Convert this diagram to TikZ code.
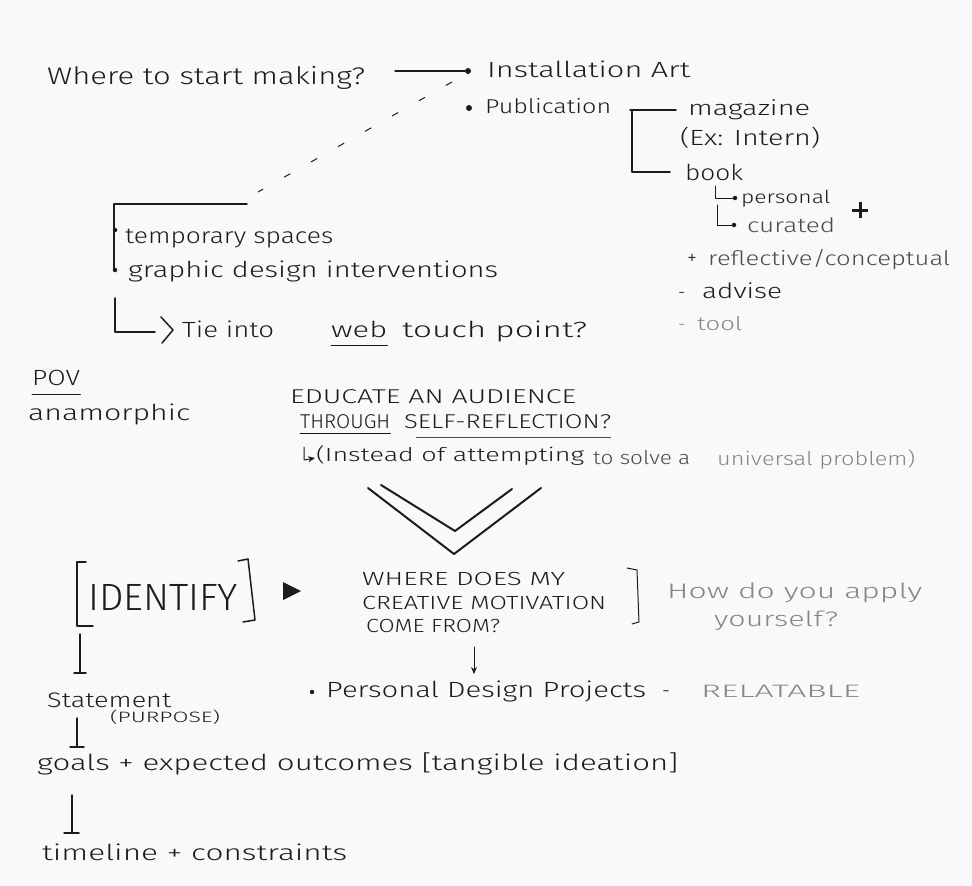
\documentclass[tikz,border=0pt]{standalone}
\usepackage{fontspec}
\setmainfont{Fira Sans}[UprightFont=* Light]
\usepackage{graphicx}
\usetikzlibrary{arrows.meta}
\definecolor{ink}{HTML}{1C1C1E}
\definecolor{graphite}{HTML}{4A4A4E}
\definecolor{pencil}{HTML}{86868A}
\definecolor{paper}{HTML}{F8F9FB}
% set a text at a given width, keeping its height
\newcommand{\hw}[2]{\resizebox{#1}{\height}{#2}}
\newcommand{\fs}[1]{\fontsize{#1}{#1}\selectfont}

\begin{document}
\begin{tikzpicture}[x=1pt,y=-1pt,
  txt/.style={inner sep=0pt, anchor=base west, text=ink},
  mid/.style={txt, text=graphite},
  soft/.style={txt, text=pencil},
  pen/.style={draw=ink, line width=1.5pt, line cap=round, line join=round},
  fine/.style={draw=ink, line width=1pt, line cap=round, line join=round},
  blob/.style={circle, fill=ink, inner sep=0pt, minimum size=6pt},
  dot/.style={circle, fill=ink, inner sep=0pt, minimum size=4.5pt},
  tip/.style={-{Stealth[length=7pt,width=6pt]}},
]
\fill[paper] (0,0) rectangle (972,886);
\useasboundingbox (0,0) rectangle (972,886);

% ---- where to start
\node[txt, font=\fs{24}] (start) at (47,84) {\hw{318pt}{Where to start making?}};
\coordinate (startR) at (395,71);
\node[blob] (dInst) at (468,71) {};
\draw[pen] (startR) -- (dInst);
\node[txt, font=\fs{22}] (inst) at (487,77) {\hw{203pt}{Installation Art}};
\node[blob] (dPub) at (469,108) {};
\node[txt, font=\fs{20}] (pub) at (485,113) {\hw{126pt}{Publication}};

% dashed link down to the spaces list
\coordinate (dashA) at (452,82);
\coordinate (dashB) at (258,192);
\draw[ink, line width=1pt, dash pattern=on 7pt off 24pt] (dashA) -- (dashB);

% ---- publication branch
\coordinate (pbTop) at (676,110);
\coordinate (pbCorner) at (630,110);
\coordinate (pbV) at (632,110);
\coordinate (pbBot) at (632,172);
\coordinate (pbEnd) at (670,172);
\draw[pen] (pbTop) -- (pbCorner);
\draw[pen] (pbV) -- (pbBot) -- (pbEnd);
\node[txt, font=\fs{21}] (mag) at (688,115) {\hw{122pt}{magazine}};
\node[txt, font=\fs{22}] (ex) at (680,145) {\hw{140pt}{(Ex: Intern)}};
\node[txt, font=\fs{22}] (book) at (685,180) {\hw{58pt}{book}};

\coordinate (h1a) at (715,186);
\coordinate (h1b) at (715,198);
\node[dot] (h1d) at (735,198) {};
\draw[fine] (h1a) -- (h1b) -- (h1d);
\node[txt, font=\fs{18}] (pers) at (741,203) {\hw{89pt}{personal}};
\coordinate (h2a) at (717,205);
\coordinate (h2b) at (717,225);
\node[dot] (h2d) at (734,225) {};
\draw[fine] (h2a) -- (h2b) -- (h2d);
\node[mid, font=\fs{20}] (cur) at (747,232) {\hw{88pt}{curated}};

\coordinate (plusC) at (860,210);
\draw[ink, line width=3pt] ([xshift=-8pt]plusC) -- ([xshift=8pt]plusC);
\draw[ink, line width=3pt] ([yshift=-8pt]plusC) -- ([yshift=8pt]plusC);

\node[txt, font=\fs{20}] (plusR) at (687,264) {+};
\node[mid, font=\fs{20}] (refl) at (708,265) {\hw{242pt}{reflective/conceptual}};
\node[txt, font=\fs{18}] (dashAdv) at (678,298) {-};
\node[txt, font=\fs{21}] (adv) at (702,298) {\hw{80pt}{advise}};
\node[soft, font=\fs{18}] (dashTool) at (678,330) {-};
\node[soft, font=\fs{19}] (tool) at (697,330) {\hw{45pt}{tool}};

% ---- spaces list
\coordinate (sbEnd) at (247,204);
\coordinate (sbCorner) at (114,204);
\coordinate (sbBot) at (114,270);
\draw[pen] (sbEnd) -- (sbCorner) -- (sbBot);
\node[dot] (sd1) at (115,230) {};
\node[dot] (sd2) at (115,270) {};
\node[txt, font=\fs{22}] (temp) at (125,243) {\hw{208pt}{temporary spaces}};
\node[txt, font=\fs{22}] (gdi) at (128,277) {\hw{370pt}{graphic design interventions}};

\coordinate (tieA) at (115,298);
\coordinate (tieB) at (115,332);
\coordinate (tieC) at (155,332);
\draw[pen] (tieA) -- (tieB) -- (tieC);
\coordinate (gtTop) at (161,317);
\coordinate (gtTip) at (173,330);
\coordinate (gtBot) at (162,343);
\draw[pen] (gtTop) -- (gtTip) -- (gtBot);
\node[txt, font=\fs{22}] (tie) at (182,337) {\hw{92pt}{Tie into}};
\node[txt, font=\fs{22}] (web) at (331,337) {\hw{56pt}{web}};
\draw[fine] ([yshift=-8pt]web.base west) -- ([yshift=-8pt]web.base east);
\node[txt, font=\fs{22}] (touch) at (402,337) {\hw{185pt}{touch point?}};

% ---- point of view
\node[txt, font=\fs{22}] (pov) at (32,385) {\hw{48pt}{POV}};
\draw[fine] ([yshift=-9pt]pov.base west) -- ([yshift=-9pt]pov.base east);
\node[txt, font=\fs{22}] (ana) at (28,420) {\hw{162pt}{anamorphic}};

% ---- question
\node[txt, font=\fs{20}] (edu) at (290,403) {\hw{286pt}{EDUCATE AN AUDIENCE}};
\node[txt, font=\fs{20}] (thr) at (300,428) {\hw{90pt}{THROUGH}};
\node[txt, font=\fs{20}] (self) at (404,428) {\hw{207pt}{SELF-REFLECTION?}};
\draw[fine] ([yshift=-5pt]thr.base west) -- ([yshift=-5pt]thr.base east);
\draw[draw=graphite, line width=0.9pt] ([yshift=-9pt,xshift=12pt]self.base west) -- ([yshift=-9pt]self.base east);

\coordinate (insA) at (304,447);
\coordinate (insB) at (304,460);
\coordinate (insC) at (315,458);
\draw[fine, tip] (insA) -- (insB) -- (insC);
\node[txt, font=\fs{19}] (ins) at (316,461) {\hw{268pt}{(Instead of attempting}};
\node[mid, font=\fs{19}] (solve) at (593,464) {\hw{97pt}{to solve a}};
\node[soft, font=\fs{19}] (univ) at (717,465) {\hw{198pt}{universal problem)}};

% ---- double chevron
\coordinate (vo1) at (368,488);
\coordinate (vo2) at (454,554);
\coordinate (vo3) at (541,488);
\coordinate (vi1) at (381,485);
\coordinate (vi2) at (455,531);
\coordinate (vi3) at (512,489);
\draw[pen, line width=2pt] (vo1) -- (vo2) -- (vo3);
\draw[pen, line width=2pt] (vi1) -- (vi2) -- (vi3);

% ---- identify
\coordinate (lbA) at (86,562);
\coordinate (lbB) at (77,562);
\coordinate (lbC) at (77,626);
\coordinate (lbD) at (93,626);
\draw[pen] (lbA) -- (lbB) -- (lbC) -- (lbD);
\coordinate (rbA) at (238,561);
\coordinate (rbB) at (248,559);
\coordinate (rbC) at (255,620);
\coordinate (rbD) at (243,622);
\draw[pen] (rbA) -- (rbB) -- (rbC) -- (rbD);
\node[txt, font=\fs{38}] (ident) at (88,610) {\hw{150pt}{IDENTIFY}};
\fill[ink] (283,582) -- (301,591) -- (283,600) -- cycle;

\node[txt, font=\fs{19}] (wq1) at (362,585) {\hw{203pt}{WHERE DOES MY}};
\node[txt, font=\fs{19}] (wq2) at (362,609) {\hw{244pt}{CREATIVE MOTIVATION}};
\node[txt, font=\fs{19}] (wq3) at (366,632) {\hw{134pt}{COME FROM?}};
\coordinate (qbA) at (627,568);
\coordinate (qbB) at (637,570);
\coordinate (qbC) at (639,622);
\coordinate (qbD) at (632,624);
\draw[fine] (qbA) -- (qbB) -- (qbC) -- (qbD);
\node[soft, font=\fs{21}] (how) at (667,598) {\hw{255pt}{How do you apply}};
\node[soft, font=\fs{21}] (your) at (714,626) {\hw{124pt}{yourself?}};

\coordinate (arrA) at (474,647);
\coordinate (arrB) at (474,674);
\draw[fine, tip] (arrA) -- (arrB);
\node[dot] (pdDot) at (312,692) {};
\node[txt, font=\fs{22}] (pdp) at (326,697) {\hw{320pt}{Personal Design Projects}};
\node[txt, font=\fs{20}] (pdDash) at (662,697) {-};
\node[soft, font=\fs{18}] (rel) at (701,697) {\hw{159pt}{RELATABLE}};

% ---- steps
\coordinate (t1a) at (80,634);
\coordinate (t1b) at (80,673);
\draw[pen] (t1a) -- (t1b);
\draw[pen] ([xshift=-6pt]t1b) -- ([xshift=6pt]t1b);
\node[txt, font=\fs{21}] (stmt) at (47,707) {\hw{124pt}{Statement}};
\node[txt, font=\fs{15}] (purp) at (110,722) {\hw{110pt}{(PURPOSE)}};
\coordinate (t2a) at (77,718);
\coordinate (t2b) at (77,747);
\draw[pen] (t2a) -- (t2b);
\draw[pen] ([xshift=-7pt]t2b) -- ([xshift=7pt]t2b);
\node[txt, font=\fs{22}] (goals) at (37,770) {\hw{641pt}{goals + expected outcomes [tangible ideation]}};
\coordinate (t3a) at (72,795);
\coordinate (t3b) at (72,833);
\draw[pen] (t3a) -- (t3b);
\draw[pen] ([xshift=-8pt]t3b) -- ([xshift=7pt]t3b);
\node[txt, font=\fs{22}] (time) at (42,860) {\hw{305pt}{timeline + constraints}};
\end{tikzpicture}
\end{document}
